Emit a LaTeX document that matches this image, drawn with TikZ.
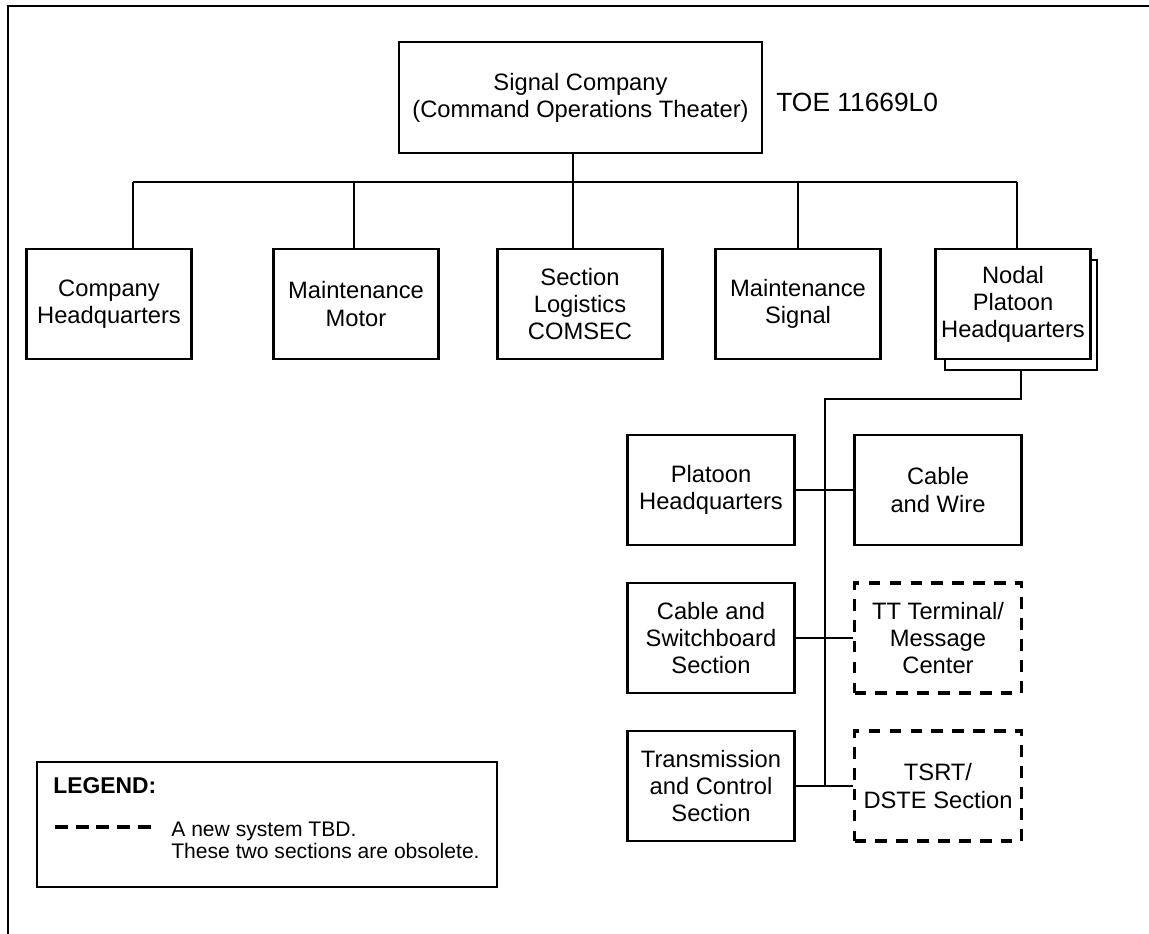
\documentclass[tikz,border=0pt]{standalone}
\usepackage{fontspec}
\setmainfont{Liberation Sans}
\usetikzlibrary{positioning}

\newcommand{\boxfont}{\fontsize{13.5}{15.4}\selectfont}
\newcommand{\legfont}{\fontsize{12}{12.5}\selectfont}

\begin{document}
\begin{tikzpicture}[node distance=2.96cm,
  block/.style={draw, line width=1.6pt, minimum width=3.3cm, minimum height=2.2cm, align=center, font=\boxfont},
  tbd/.style={block, line width=1.9pt, dash pattern=on 6.6pt off 5.3pt},
  link/.style={line width=1.6pt}]

  \useasboundingbox (0,0) rectangle (22.98,-18.68);

  % Page frame
  \draw[line width=1.6pt] (22.98,-0.12) -- (0.16,-0.12) -- (0.16,-18.68);

  % Company
  \node[block, minimum width=7.26cm, minimum height=2.22cm] (H0) at (11.61,-1.95) {Signal Company\\(Command Operations Theater)};
  \node[anchor=base west, inner sep=0, font=\fontsize{15}{16}\selectfont] (T0) at (15.52,-2.22) {TOE 11669L0};

  % First row
  \node[block] (C1) at (2.18,-6.08) {Company\\Headquarters};
  \node[block] (C2) at (7.12,-6.08) {Maintenance\\Motor};
  \node[block] (C3) at (11.6,-6.08) {Section\\Logistics\\COMSEC};
  \node[block] (C4) at (15.96,-6.08) {Maintenance\\Signal};
  \node[block, minimum width=3.04cm] (C5s) at (20.42,-6.3) {};
  \node[block, minimum width=3.04cm, fill=white] (C5) at (20.26,-6.08) {Nodal\\Platoon\\Headquarters};

  % Platoon sections
  \node[block, minimum width=3.34cm] (P1) at (14.22,-9.8) {Platoon\\Headquarters};
  \node[block, minimum width=3.34cm, below of=P1] (P2) {Cable and\\Switchboard\\Section};
  \node[block, minimum width=3.34cm, below of=P2] (P3) {Transmission\\and Control\\Section};
  \node[block, minimum width=3.34cm, right of=P1, xshift=1.58cm] (Q1) {Cable\\and Wire};
  \node[tbd, minimum width=3.34cm, right of=P2, xshift=1.58cm] (Q2) {TT Terminal/\\Message\\Center};
  \node[tbd, minimum width=3.34cm, right of=P3, xshift=1.58cm] (Q3) {TSRT/\\DSTE Section};

  % Bus to first row
  \coordinate (s1) at (2.66,-3.64);
  \coordinate (s2) at (7.08,-3.64);
  \coordinate (s3) at (11.46,-3.64);
  \coordinate (s4) at (15.96,-3.64);
  \coordinate (s5) at (20.34,-3.64);
  \draw[link] (s1) -- (s5);
  \draw[link] (H0.south -| s3) -- (s3);
  \foreach \i in {1,...,5}
    \draw[link] (s\i) -- (s\i |- C\i.north);

  % Spine down to the sections
  \coordinate (J1) at (16.5,-7.98);
  \draw[link] (C5s.south) |- (J1) -- (J1 |- P3.east);
  \draw[link] (P1.east) -- (Q1.west);
  \draw[link] (P2.east) -- (Q2.west);
  \draw[link] (P3.east) -- (Q3.west);

  % Legend
  \node[draw, line width=1.6pt, minimum width=9.2cm, minimum height=2.5cm] (L0) at (5.34,-16.49) {};
  \node[anchor=base west, inner sep=0, font=\fontsize{13}{14}\selectfont\bfseries] (L1) at (1.06,-15.86) {LEGEND:};
  \coordinate (D1) at (1.1,-16.54);
  \coordinate (D2) at (3.02,-16.54);
  \draw[line width=1.8pt, dash pattern=on 7.4pt off 4.4pt] (D1) -- (D2);
  \node[anchor=base west, inner sep=0, align=left, font=\legfont] (L2) at (3.42,-17.16) {A new system TBD.\\These two sections are obsolete.};

\end{tikzpicture}
\end{document}
